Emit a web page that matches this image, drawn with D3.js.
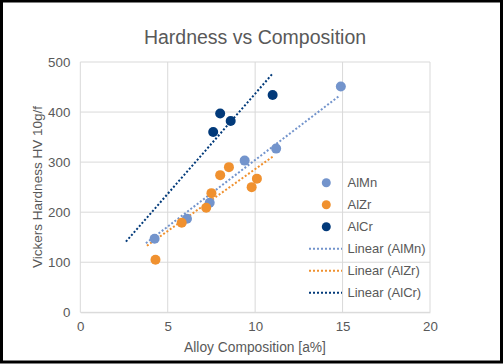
<!DOCTYPE html>
<html><head><meta charset="utf-8">
<script src="https://cdn.jsdelivr.net/npm/d3@7"></script>
<style>body{margin:0;background:#fff}svg{display:block}text{font-family:"Liberation Sans",Arial,sans-serif;fill:#595959}</style>
</head><body><svg id="c" width="503" height="364"></svg>
<script>
const xTicks=[0,5,10,15,20];
const yTicks=[0,100,200,300,400,500];
const seriesNames=["AlMn","AlZr","AlCr"];
const alMnX=[4.25,6.1,7.4,9.4,11.2,14.9];
const alMnY=[147,187,219,303,327,451];
const alZrX=[4.3,5.8,7.2,7.5,8.0,8.5,9.8,10.1];
const alZrY=[105,179,209,238,274,290,250,267];
const alCrX=[7.6,8.0,8.6,11.0];
const alCrY=[360,397,382,434];
// trendline endpoints [x0,y0,x1,y1]
const trendAlMn=[3.75,138,14.84,433];
const trendAlZr=[3.81,133,11.09,313];
const trendAlCr=[2.61,141,11.03,478];
const colors=["#7394CC","#F0912F","#023A7A"];

const svg=d3.select("#c");
svg.append("rect").attr("x",1.5).attr("y",1).attr("width",500).attr("height",361).attr("fill","#fff").attr("stroke","#000").attr("stroke-width",3);
const x=d3.scaleLinear().domain([0,20]).range([80.3,430]);
const y=d3.scaleLinear().domain([0,500]).range([312.3,62]);
const g=svg.append("g");
// gridlines
g.selectAll(".gy").data(yTicks).join("line").attr("x1",x(0)).attr("x2",x(20)).attr("y1",d=>y(d)).attr("y2",d=>y(d)).attr("stroke","#d9d9d9").attr("stroke-width",1);
g.selectAll(".gx").data(xTicks).join("line").attr("y1",y(0)).attr("y2",y(500)).attr("x1",d=>x(d)).attr("x2",d=>x(d)).attr("stroke","#d9d9d9").attr("stroke-width",1);
// axes via d3
const ax=svg.append("g").attr("transform",`translate(0,${y(0)})`).call(d3.axisBottom(x).tickValues(xTicks).tickSize(0).tickPadding(9));
ax.select(".domain").attr("stroke","#d9d9d9");
const ay=svg.append("g").attr("transform",`translate(${x(0)},0)`).call(d3.axisLeft(y).tickValues(yTicks).tickSize(0).tickPadding(10));
ay.select(".domain").remove();
svg.selectAll(".tick text").attr("font-size",13.3).attr("fill","#595959").attr("font-family","Liberation Sans, Arial, sans-serif");
// trendlines
const trends=[trendAlMn,trendAlZr,trendAlCr];
trends.forEach((t,i)=>{
  svg.append("line").attr("x1",x(t[0])).attr("y1",y(t[1])).attr("x2",x(t[2])).attr("y2",y(t[3]))
    .attr("stroke",colors[i]).attr("stroke-width",2).attr("stroke-dasharray","2 2");
});
// points
const sets=[[alMnX,alMnY],[alZrX,alZrY],[alCrX,alCrY]];
sets.forEach((s,i)=>{
  svg.append("g").selectAll("circle").data(s[0].map((v,j)=>[v,s[1][j]])).join("circle")
    .attr("cx",d=>x(d[0])).attr("cy",d=>y(d[1])).attr("r",5).attr("fill",colors[i]);
});
// title & labels
svg.append("text").attr("x",255).attr("y",44).attr("text-anchor","middle").attr("font-size",19.5).text("Hardness vs Composition");
svg.append("text").attr("x",255).attr("y",352).attr("text-anchor","middle").attr("font-size",13.8).text("Alloy Composition [a%]");
svg.append("text").attr("transform","translate(42,187) rotate(-90)").attr("text-anchor","middle").attr("font-size",13.5).text("Vickers Hardness HV 10g/f");
// legend
const leg=svg.append("g");
const rows=seriesNames.map((n,i)=>({type:"pt",label:n,c:colors[i]})).concat(seriesNames.map((n,i)=>({type:"ln",label:`Linear (${n})`,c:colors[i]})));
rows.forEach((r,i)=>{
  const yy=182.7+i*22;
  if(r.type==="pt") leg.append("circle").attr("cx",326.3).attr("cy",yy).attr("r",4.5).attr("fill",r.c);
  else leg.append("line").attr("x1",309).attr("x2",342).attr("y1",yy).attr("y2",yy).attr("stroke",r.c).attr("stroke-width",2).attr("stroke-dasharray","2 2");
  leg.append("text").attr("x",347.5).attr("y",yy+4.5).attr("font-size",13).text(r.label);
});
</script></body></html>
